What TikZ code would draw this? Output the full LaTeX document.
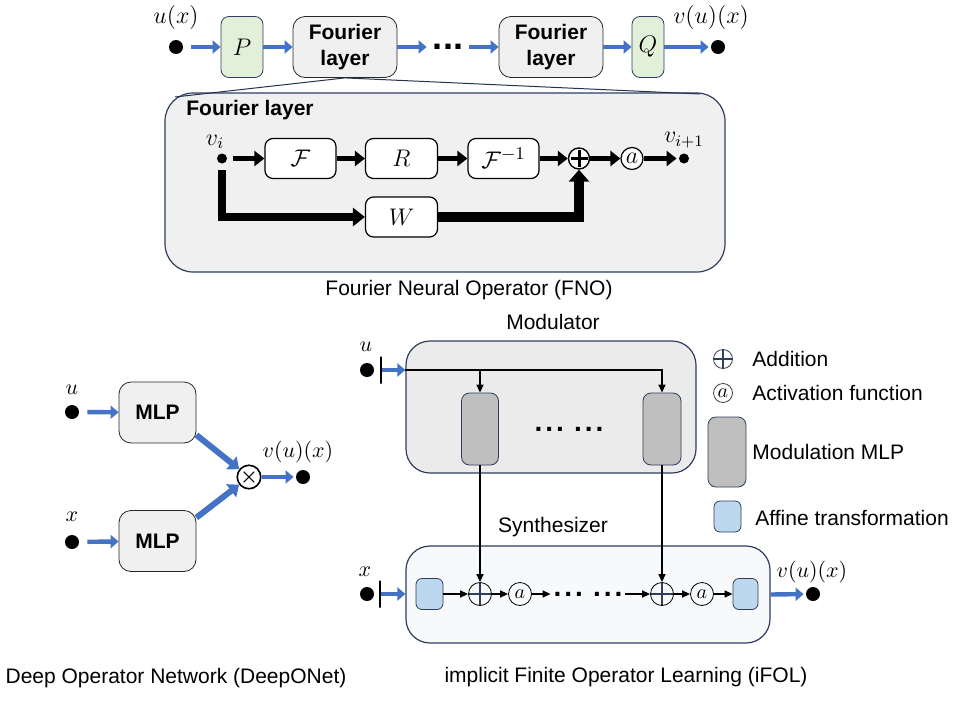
\documentclass[tikz,border=0pt]{standalone}
\usepackage{fontspec}
\usepackage{amsmath}
\newfontfamily\arial{Liberation Sans}
\usetikzlibrary{arrows.meta}
\definecolor{navy}{HTML}{2F3E5C}
\definecolor{arrowblue}{HTML}{4472C4}
\definecolor{pgreen}{HTML}{E2F0D9}
\definecolor{lgray}{HTML}{F0F0F0}
\definecolor{mgray}{HTML}{EBEBEB}
\definecolor{dgray}{HTML}{BFBFBF}
\definecolor{lblue}{HTML}{BDD7EE}
\definecolor{synfill}{HTML}{F8F9FB}
\newcommand{\gapdots}{.\kern1.5pt.\kern1.5pt.\kern5pt.\kern1.5pt.\kern1.5pt.}
\begin{document}
\begin{tikzpicture}[x=0.5pt,y=-0.5pt,
	txt/.style={inner sep=0,font=\arial\fontsize{10.5}{12.6}\selectfont},
	btxt/.style={inner sep=0,font=\arial\bfseries\fontsize{10.5}{13}\selectfont,align=center},
	lab/.style={inner sep=0,font=\fontsize{11}{13}\selectfont},
	dotsfont/.style={inner sep=0,font=\arial\bfseries\fontsize{18}{18}\selectfont},
	smalldots/.style={inner sep=0,font=\arial\bfseries\fontsize{14}{14}\selectfont},
	blob/.style={circle,fill=black,inner sep=0,minimum size=7pt},
	stopbar/.style={draw,line width=0.8pt,inner sep=0,minimum width=0pt,minimum height=13.5pt},
	projbox/.style={draw=navy,fill=pgreen,rounded corners=4pt,minimum width=21pt,minimum height=30.5pt,font=\fontsize{13}{15}\selectfont},
	layerbox/.style={btxt,draw=black!85,fill=lgray,rounded corners=6pt,minimum width=52pt,minimum height=30.5pt},
	bigbox/.style={draw=navy,fill=lgray,line width=0.6pt,rounded corners=14pt},
	opbox/.style={draw=black,fill=white,line width=0.6pt,rounded corners=4pt,minimum width=36pt,minimum height=20pt,font=\fontsize{13}{15}\selectfont},
	mlpbox/.style={btxt,draw=black!85,fill=lgray,rounded corners=6pt,minimum width=38.5pt,minimum height=30.5pt},
	panel/.style={draw=navy,line width=0.6pt,rounded corners=12pt},
	mlpg/.style={draw=navy,fill=dgray,rounded corners=4pt,minimum width=18.5pt,minimum height=36pt},
	affbox/.style={draw=navy,fill=lblue,rounded corners=3pt,minimum width=13.5pt,minimum height=15.5pt},
	opcirc/.style={circle,draw,inner sep=0,minimum size=11.5pt},
	addcirc/.style={opcirc,path picture={\draw[navy,line width=1pt]
		(path picture bounding box.north)--(path picture bounding box.south)
		(path picture bounding box.west)--(path picture bounding box.east);}},
	sumcirc/.style={opcirc,fill=white,minimum size=10.5pt,line width=0.7pt,path picture={\draw[line width=1.5pt]
		([yshift=-1pt]path picture bounding box.north)--([yshift=1pt]path picture bounding box.south)
		([xshift=1pt]path picture bounding box.west)--([xshift=-1pt]path picture bounding box.east);}},
	barrow/.style={arrowblue,line width=2.2pt,-{Triangle[length=4pt,width=6.5pt]}},
	fat/.style={line width=2.5pt,-{Triangle[length=5pt,width=7.5pt]}},
	thinarr/.style={line width=0.7pt,-{Triangle[length=4pt,width=3.5pt]}}]
\useasboundingbox (0,0) rectangle (954,723);

% FNO, top row
\node[lab,font=\fontsize{12}{14}\selectfont] (ux) at (176,17) {$u(x)$};
\node[blob] (u0) at (176,47) {};
\node[projbox] (P) at (242,47) {$P$};
\node[layerbox] (F1) at (345,47) {Fourier\\layer};
\node[dotsfont,minimum width=21pt] (ddd) at (448,47) {...};
\node[layerbox] (F2) at (551,47) {Fourier\\layer};
\node[projbox,minimum width=16pt] (Q) at (648,47) {$Q$};
\node[blob] (v0) at (718,47) {};
\node[lab,font=\fontsize{12.5}{14}\selectfont] (vx) at (711,17) {$v(u)(x)$};
\draw[barrow,shorten <=4pt] (u0)--(P);
\draw[barrow] (P)--(F1);
\draw[barrow] (F1)--(ddd);
\draw[barrow] (ddd)--(F2);
\draw[barrow] (F2)--(Q);
\draw[barrow,shorten >=1pt] (Q)--(v0);

% Fourier layer
\node[bigbox,minimum width=280pt,minimum height=89.5pt] (FL) at (445,182.5) {};
\coordinate (cl) at (175,97);
\coordinate (cr) at (700,94);
\draw[navy!80!black,line width=0.5pt] (cl)--(F1.south)--(cr);
\node[btxt,anchor=west] (FLt) at (186,110) {Fourier layer};
\node[lab,font=\fontsize{12}{14}\selectfont] (vil) at (215,142) {$v_i$};
\node[blob,minimum size=5pt] (vi) at (222,158.5) {};
\node[opbox,minimum width=35.5pt] (Fo) at (300.5,158.5) {$\mathcal{F}$};
\node[opbox] (R) at (401.5,158.5) {$R$};
\node[opbox,minimum width=35.5pt] (Fi) at (503.5,158.5) {$\mathcal{F}^{-1}$};
\node[sumcirc] (sum) at (579,158.5) {};
\node[opcirc,fill=white,minimum size=11pt,line width=0.6pt,font=\fontsize{12}{14}\selectfont] (act) at (632,158.5) {$a$};
\node[blob,minimum size=5pt] (vo) at (684,158.5) {};
\node[lab,font=\fontsize{12}{14}\selectfont] (vol) at (684,140) {$v_{i+1}$};
\node[opbox] (W) at (401.5,217) {$W$};
\draw[fat,shorten <=3pt] (vi)--(Fo);
\draw[fat] (Fo)--(R);
\draw[fat] (R)--(Fi);
\draw[fat] (Fi)--(sum);
\draw[fat] (sum)--(act);
\draw[fat,shorten >=1pt] (act)--(vo);
\draw[fat,line width=4pt,-{Triangle[length=6pt,width=9pt]},shorten <=3pt] (vi)|-(W);
\draw[fat,line width=5pt,-{Triangle[length=6pt,width=10pt]}] (W)-|(sum);
\node[txt] (fnocap) at (469,290) {Fourier Neural Operator (FNO)};

% DeepONet
\node[lab] (ul) at (72,390) {$u$};
\node[blob] (du) at (72,412) {};
\node[mlpbox] (M1) at (157.5,412.5) {MLP};
\node[lab] (xl) at (72,517) {$x$};
\node[blob] (dx) at (72,542) {};
\node[mlpbox] (M2) at (157.5,541) {MLP};
\node[opcirc,fill=white,line width=0.8pt] (prod) at (249,477) {$\boldsymbol{\times}$};
\node[blob] (dv) at (303,477) {};
\node[lab] (vl) at (298,452) {$v(u)(x)$};
\draw[barrow,shorten <=4pt] (du)--(M1);
\draw[barrow,shorten <=4pt] (dx)--(M2);
\draw[barrow,line width=3pt,-{Triangle[length=5pt,width=8pt]}] (M1.-30)--(prod);
\draw[barrow,line width=3pt,-{Triangle[length=5pt,width=8pt]}] (M2.31)--(prod);
\draw[barrow,shorten >=1pt] (prod)--(dv);
\node[txt] (dcap) at (176,678) {Deep Operator Network (DeepONet)};

% Modulator
\node[txt] (modt) at (553,322) {Modulator};
\node[panel,fill=mgray,minimum width=145pt,minimum height=66pt] (Mod) at (551,407) {};
\node[lab] (ul2) at (366,347) {$u$};
\node[blob] (du2) at (367,370) {};
\node[stopbar] (bu) at (381,370) {};
\coordinate (min) at (bu -| Mod.west);
\node[mlpg] (G1) at (480,429) {};
\node[mlpg,minimum width=19pt] (G2) at (662,429) {};
\coordinate (j1) at (G1 |- min);
\node[smalldots] (mdots) at (569,429) {\gapdots};
\draw[barrow] (bu)--(min);
\draw[thinarr] (min)-|(G2);
\draw[thinarr] (j1)--(G1);

% Synthesizer
\node[txt] (synt) at (553,527) {Synthesizer};
\node[panel,fill=synfill,minimum width=182pt,minimum height=48.5pt] (Syn) at (588,594.5) {};
\node[lab] (xl2) at (365,572) {$x$};
\node[blob] (dx2) at (367,594) {};
\node[stopbar] (bx) at (380,594) {};
\coordinate (sin) at (bx -| Syn.west);
\node[affbox] (A1) at (429.5,594) {};
\node[addcirc] (S1) at (480,594) {};
\node[opcirc] (a1) at (520,594) {$a$};
\node[smalldots,minimum width=37pt] (sdots) at (588,594) {\gapdots};
\node[addcirc] (S2) at (662,594) {};
\node[opcirc] (a2) at (702,594) {$a$};
\node[affbox,minimum width=12.5pt] (A2) at (745.5,594) {};
\node[blob] (dv2) at (813,594) {};
\node[lab] (vl2) at (812,572) {$v(u)(x)$};
\draw[barrow] (bx)--(sin);
\draw[thinarr] (A1)--(S1);
\draw[thinarr] (S1)--(a1);
\draw[thinarr] (a1)--(sdots);
\draw[thinarr] (sdots)--(S2);
\draw[thinarr] (S2)--(a2);
\draw[thinarr] (a2)--(A2);
\draw[thinarr] (G1)--(S1);
\draw[thinarr] (G2)--(S2);
\draw[barrow,shorten >=1pt] (Syn.east)--(dv2);
\node[txt] (icap) at (626,677) {implicit Finite Operator Learning (iFOL)};

% legend
\node[addcirc,draw=navy,minimum size=9.5pt] (Lsum) at (723,359) {};
\node[txt,anchor=west] (Lsumt) at (752,359) {Addition};
\node[opcirc,draw=black!75,minimum size=9.5pt,font=\fontsize{10}{11}\selectfont] (Lact) at (723,393) {$a$};
\node[txt,anchor=west] (Lactt) at (752,393) {Activation function};
\node[mlpg,minimum width=19pt,minimum height=35pt] (Lmlp) at (727,452) {};
\node[txt,anchor=west] (Lmlpt) at (752,452) {Modulation MLP};
\node[affbox] (Laff) at (727.5,516.5) {};
\node[txt,anchor=west] (Lafft) at (755,518) {Affine transformation};
\end{tikzpicture}
\end{document}
